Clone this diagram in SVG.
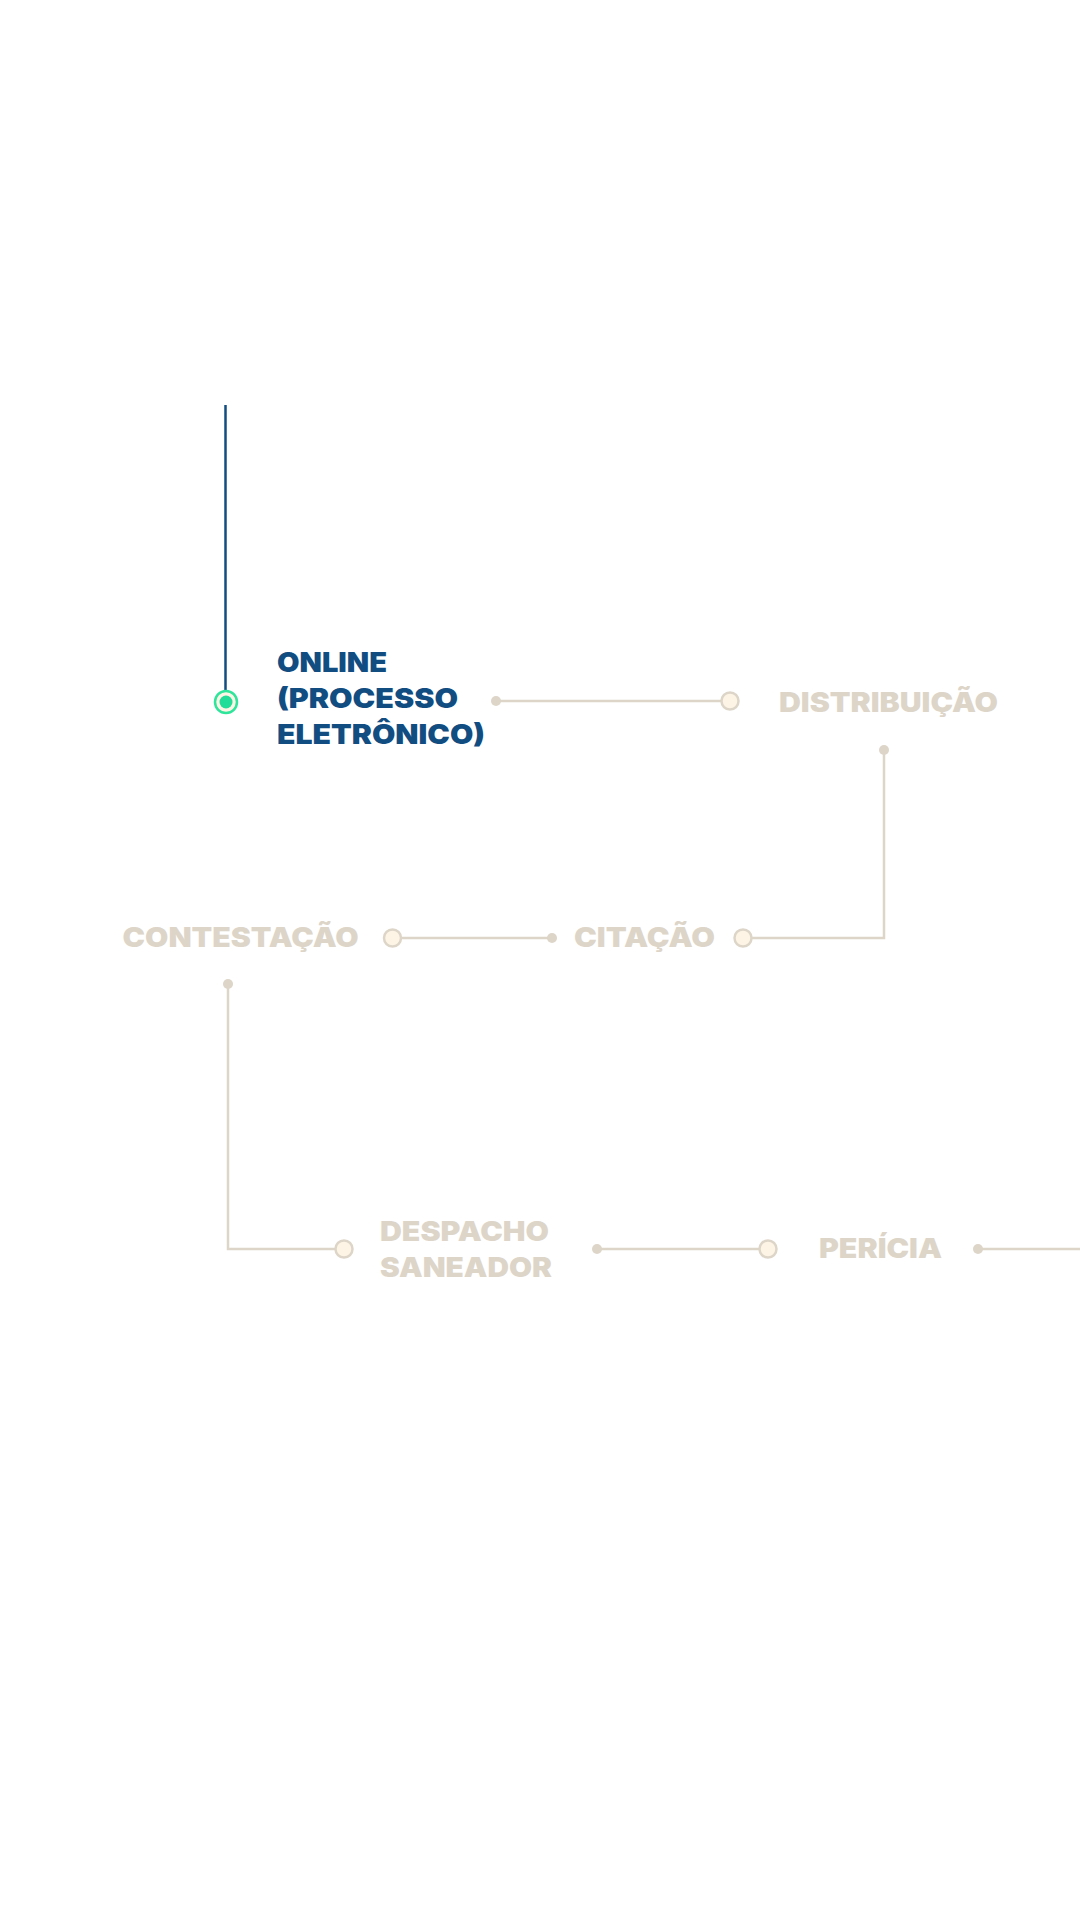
<svg xmlns="http://www.w3.org/2000/svg" width="1080" height="1920" viewBox="0 0 1080 1920">
<style>
.t{font-family:Inter,"Liberation Sans",sans-serif;font-weight:900;font-size:27px;fill:#ddd5c8}
.a{fill:#124d82}
.ln{stroke:#ddd5c8;stroke-width:2.5;fill:none}
.dot{fill:#ddd5c8}
.oc{fill:#fdf4e5;stroke:#ddd5c8;stroke-width:2.5}
</style>
<rect width="1080" height="1920" fill="#ffffff"/>
<g id="connectors">
<line x1="225.5" y1="405" x2="225.5" y2="690" stroke="#124d82" stroke-width="2.5"/>
<line class="ln" x1="496" y1="701" x2="722" y2="701"/>
<circle class="dot" cx="496" cy="701" r="5"/>
<polyline class="ln" points="884,750 884,938 752,938"/>
<circle class="dot" cx="884" cy="750" r="5"/>
<line class="ln" x1="401" y1="938" x2="552" y2="938"/>
<circle class="dot" cx="552" cy="938" r="5"/>
<polyline class="ln" points="228,984 228,1249 335,1249"/>
<circle class="dot" cx="228" cy="984" r="5"/>
<line class="ln" x1="597" y1="1249" x2="759" y2="1249"/>
<circle class="dot" cx="597" cy="1249" r="5"/>
<line class="ln" x1="978" y1="1249" x2="1080" y2="1249"/>
<circle class="dot" cx="978" cy="1249" r="5"/>
</g>
<g id="node-online">
<circle cx="226" cy="702" r="11" fill="#fdf4e5" stroke="#2ee59b" stroke-width="2.5"/>
<circle cx="226" cy="702" r="6.5" fill="#22dd97"/>
<text class="t a" x="277" y="672" textLength="110" lengthAdjust="spacingAndGlyphs">ONLINE</text>
<text class="t a" x="277" y="708" textLength="181" lengthAdjust="spacingAndGlyphs">(PROCESSO</text>
<text class="t a" x="277" y="744" textLength="208" lengthAdjust="spacingAndGlyphs">ELETRÔNICO)</text>
</g>
<g id="node-distribuicao">
<circle class="oc" cx="730" cy="701" r="8.5"/>
<text class="t" x="779" y="712" textLength="219" lengthAdjust="spacingAndGlyphs">DISTRIBUIÇÃO</text>
</g>
<g id="node-citacao">
<circle class="oc" cx="743" cy="938" r="8.5"/>
<text class="t" x="574" y="947" textLength="141" lengthAdjust="spacingAndGlyphs">CITAÇÃO</text>
</g>
<g id="node-contestacao">
<circle class="oc" cx="392.5" cy="938" r="8.5"/>
<text class="t" x="122.5" y="947" textLength="236" lengthAdjust="spacingAndGlyphs">CONTESTAÇÃO</text>
</g>
<g id="node-despacho">
<circle class="oc" cx="344" cy="1249" r="8.5"/>
<text class="t" x="380" y="1241" textLength="169" lengthAdjust="spacingAndGlyphs">DESPACHO</text>
<text class="t" x="380" y="1277" textLength="172" lengthAdjust="spacingAndGlyphs">SANEADOR</text>
</g>
<g id="node-pericia">
<circle class="oc" cx="768" cy="1249" r="8.5"/>
<text class="t" x="819" y="1258" textLength="123" lengthAdjust="spacingAndGlyphs">PERÍCIA</text>
</g>
</svg>
